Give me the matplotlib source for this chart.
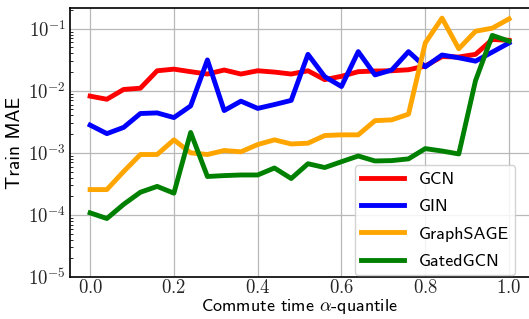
import numpy as np
import matplotlib
matplotlib.use("Agg")
import matplotlib.pyplot as plt
from matplotlib.ticker import FixedLocator, FixedFormatter, LogLocator, NullFormatter

plt.rcParams['mathtext.fontset'] = 'cm'
plt.rcParams['font.family'] = ['cmss10', 'DejaVu Sans']

# alpha-quantiles (26 points, step 0.04)
alpha = [i * 0.04 for i in range(26)]

gcn = [0.0082, 0.0073, 0.0105, 0.011, 0.021, 0.0223, 0.0203, 0.0186, 0.0216, 0.0186,
       0.021, 0.020, 0.0186, 0.021, 0.0151, 0.0171, 0.0203, 0.0208, 0.021, 0.0218,
       0.025, 0.0355, 0.035, 0.0386, 0.067, 0.065]
gin = [0.0028, 0.00204, 0.00257, 0.0043, 0.0044, 0.0037, 0.0057, 0.0314, 0.0048, 0.0068,
       0.0052, 0.006, 0.007, 0.0386, 0.0169, 0.0117, 0.0427, 0.018, 0.0216, 0.0427,
       0.0243, 0.0377, 0.034, 0.030, 0.042, 0.059]
sage = [0.000256, 0.000256, 0.0005, 0.00094, 0.00094, 0.00162, 0.001, 0.00094, 0.00109, 0.00104,
        0.00136, 0.00162, 0.00139, 0.00143, 0.0019, 0.00195, 0.00195, 0.0033, 0.0034, 0.0042,
        0.059, 0.148, 0.0475, 0.091, 0.102, 0.144]
gated = [0.000108, 0.0000875, 0.000148, 0.000232, 0.000288, 0.000224, 0.00213, 0.000416, 0.00043, 0.00044,
         0.00044, 0.00057, 0.000386, 0.000668, 0.00058, 0.00072, 0.00089, 0.00074, 0.00075, 0.0008,
         0.00117, 0.00107, 0.00096, 0.0146, 0.078, 0.063]

series = [("GCN", gcn, "red"), ("GIN", gin, "blue"),
          ("GraphSAGE", sage, "orange"), ("GatedGCN", gated, "green")]

xticks = [0.0, 0.2, 0.4, 0.6, 0.8, 1.0]
yticks = [1e-5, 1e-4, 1e-3, 1e-2, 1e-1]

fig = plt.figure(figsize=(5.29, 3.19), dpi=100)
ax = fig.add_axes([70 / 529, 42 / 319, 460 / 529, 269 / 319])

for name, vals, col in series:
    ax.plot(alpha, vals, color=col, lw=3.5, label=name)

ax.set_yscale('log')
ax.set_xlim(-0.048, 1.05)
ax.set_ylim(1e-5, 10 ** (-1 + 21 / 63))

ax.xaxis.set_major_locator(FixedLocator(xticks))
ax.xaxis.set_major_formatter(FixedFormatter(['$%.1f$' % t for t in xticks]))
ax.yaxis.set_major_locator(FixedLocator(yticks))
ax.yaxis.set_major_formatter(FixedFormatter(['$10^{%d}$' % int(np.log10(t)) for t in yticks]))
ax.yaxis.set_minor_locator(LogLocator(base=10, subs=np.arange(2, 10), numticks=20))
ax.yaxis.set_minor_formatter(NullFormatter())
ax.tick_params(axis='both', which='major', labelsize=13.5, length=0, pad=3, colors='#262626')
ax.tick_params(axis='x', which='major', pad=1.5)
ax.tick_params(axis='y', which='minor', length=2, direction='in')

ax.grid(True, which='major', color='#b8b8b8', lw=0.9)
ax.set_axisbelow(True)
for s in ['left', 'bottom', 'top']:
    ax.spines[s].set_color('black')
    ax.spines[s].set_linewidth(1.2)
ax.spines['right'].set_visible(False)

ax.set_xlabel(r'Commute time $\alpha$-quantile', fontsize=13, labelpad=0)
ax.set_ylabel('Train MAE', fontsize=14, labelpad=3)

ax.legend(loc='lower right', bbox_to_anchor=(447 / 460, 0.0), borderaxespad=0.1,
          fontsize=13, handlelength=2.4, handletextpad=0.8, labelspacing=0.64,
          borderpad=0.35, framealpha=0.85, edgecolor='#cccccc')

fig.savefig('out.png', dpi=100)
